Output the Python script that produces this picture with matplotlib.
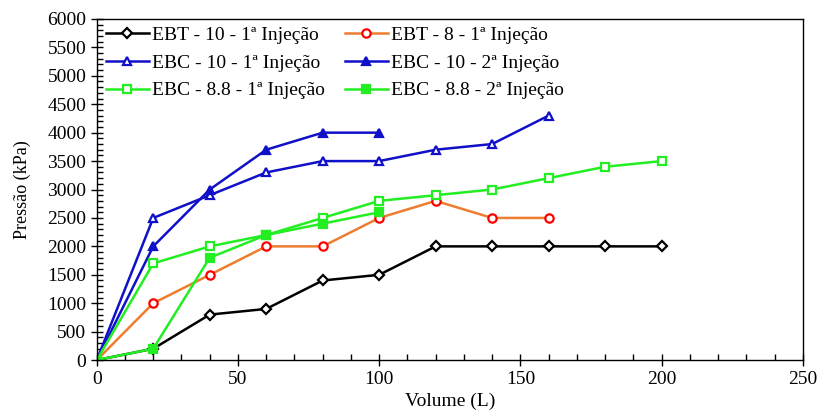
import matplotlib
matplotlib.use("Agg")
import matplotlib.pyplot as plt
from matplotlib.ticker import MultipleLocator

# === DATA ===
x_long = [0, 20, 40, 60, 80, 100, 120, 140, 160, 180, 200]
x_mid = [0, 20, 40, 60, 80, 100, 120, 140, 160]
x_short = [0, 20, 40, 60, 80, 100]

ebt_10_1 = [0, 200, 800, 900, 1400, 1500, 2000, 2000, 2000, 2000, 2000]
ebt_8_1 = [0, 1000, 1500, 2000, 2000, 2500, 2800, 2500, 2500]
ebc_10_1 = [0, 2500, 2900, 3300, 3500, 3500, 3700, 3800, 4300]
ebc_10_2 = [0, 2000, 3000, 3700, 4000, 4000]
ebc_88_1 = [0, 1700, 2000, 2200, 2500, 2800, 2900, 3000, 3200, 3400, 3500]
ebc_88_2 = [0, 200, 1800, 2200, 2400, 2600]

plt.rcParams['font.family'] = ['Liberation Serif', 'DejaVu Serif']

fig = plt.figure(figsize=(8.2, 4.12), dpi=100)
ax = fig.add_axes([0.118, 0.126, 0.861, 0.828])

blue = '#1010C8'
green = '#22EE22'
lw = 1.8
ms = 6

h1, = ax.plot(x_long, ebt_10_1, color='black', lw=lw, marker='D', ms=5.5, mfc='white',
              mec='black', mew=1.6, label='EBT - 10 - 1ª Injeção')
h2, = ax.plot(x_mid, ebt_8_1, color='#ED7D31', lw=lw, marker='o', ms=ms, mfc='white',
              mec='red', mew=1.6, label='EBT - 8 - 1ª Injeção')
h3, = ax.plot(x_mid, ebc_10_1, color=blue, lw=lw, marker='^', ms=ms, mfc='white',
              mec=blue, mew=1.6, label='EBC - 10 - 1ª Injeção')
h4, = ax.plot(x_short, ebc_10_2, color=blue, lw=lw, marker='^', ms=ms, mfc=blue,
              mec=blue, mew=1.6, label='EBC - 10 - 2ª Injeção')
h5, = ax.plot(x_long, ebc_88_1, color=green, lw=lw, marker='s', ms=ms, mfc='white',
              mec=green, mew=1.6, label='EBC - 8.8 - 1ª Injeção')
h6, = ax.plot(x_short, ebc_88_2, color=green, lw=lw, marker='s', ms=ms, mfc=green,
              mec=green, mew=1.6, label='EBC - 8.8 - 2ª Injeção')

ax.set_xlim(0, 250)
ax.set_ylim(0, 6000)
ax.xaxis.set_major_locator(MultipleLocator(50))
ax.xaxis.set_minor_locator(MultipleLocator(10))
ax.yaxis.set_major_locator(MultipleLocator(500))
ax.yaxis.set_minor_locator(MultipleLocator(100))
ax.tick_params(which='major', direction='inout', length=8, width=1, labelsize=14)
ax.tick_params(which='minor', direction='in', length=4, width=1)
for s in ax.spines.values():
    s.set_linewidth(1)

ax.set_xlabel('Volume (L)', fontsize=14, labelpad=4)
ax.set_ylabel('Pressão (kPa)', fontsize=13, labelpad=12)

# row-major order like the original legend
handles = [h1, h3, h5, h2, h4, h6]
ax.legend(handles=handles, labels=[h.get_label() for h in handles],
          loc='upper left', bbox_to_anchor=(0.007, 0.99), ncol=2, frameon=False,
          fontsize=14, handlelength=2.25, handletextpad=0.15, columnspacing=1.0,
          labelspacing=0.52, borderaxespad=0.0, borderpad=0.2)

fig.savefig('out.png', dpi=100)
